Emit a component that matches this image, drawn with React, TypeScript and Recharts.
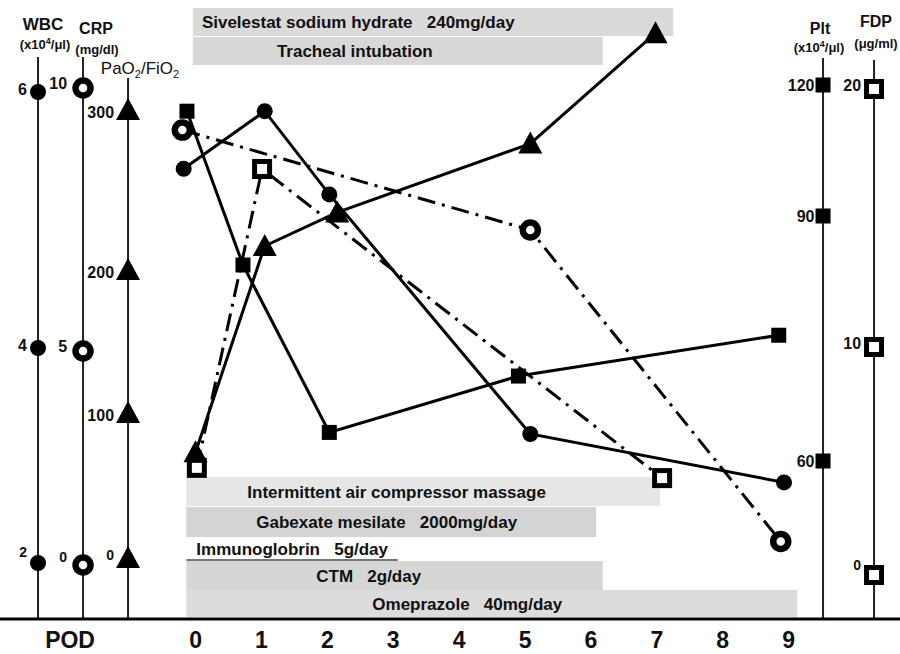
import React from "react";
import { ComposedChart, Scatter, XAxis, YAxis, ReferenceLine, ReferenceArea } from "recharts";

// post-operative days on the x axis
const podTicks = [0, 1, 2, 3, 4, 5, 6, 7, 8, 9];

// series (day positions keep the small offsets of the original)
const wbcDays = [-0.18, 1.05, 2.03, 5.08, 8.93];
const wbcValues = [5.4, 5.85, 5.2, 3.2, 2.75]; // x10^4/μl

const crpDays = [-0.2, 5.08, 8.88];
const crpValues = [9.2, 7.3, 0.55]; // mg/dl

const pfDays = [0, 1.05, 2.15, 5.08, 6.98];
const pfValues = [73, 215, 236, 279, 348]; // PaO2/FiO2

const pltDays = [-0.13, 0.72, 2.03, 4.9, 8.85];
const pltValues = [114, 84, 63.5, 70.4, 75.4]; // x10^4/μl

const fdpDays = [0.02, 1.01, 7.08];
const fdpValues = [4.7, 16.9, 4.25]; // μg/ml

// axis tick values
const wbcTicks = [2, 4, 6];
const crpTicks = [0, 5, 10];
const pfTicks = [0, 100, 200, 300];
const pltTicks = [60, 90, 120];
const fdpTicks = [0, 10, 20];

// treatments (start / end in POD)
const treatmentNames = [
  "Sivelestat sodium hydrate   240mg/day",
  "Tracheal intubation",
  "Intermittent air compressor massage",
  "Gabexate mesilate   2000mg/day",
  "Immunoglobrin   5g/day",
  "CTM   2g/day",
  "Omeprazole   40mg/day",
];
const treatmentStart = [-0.04, -0.04, -0.14, -0.14, -0.14, -0.14, -0.14];
const treatmentEnd = [7.25, 6.18, 7.05, 6.08, 3.07, 6.18, 9.13];

// ---- layout ----
const W = 900;
const H = 654;
const AXIS_H = 35;
const PLOT_H = H - AXIS_H; // y domain = height above the POD axis line
const X_MIN = -2.967;
const X_MAX = 10.69;
const POD_LABEL_AT = -1.904;
const FONT = "'Liberation Sans', Arial, Helvetica, sans-serif";

type Anchor = [number, number];
type Kind = "dot" | "ring" | "tri" | "sq" | "osq";

// piecewise linear value -> height, through the hand-spaced tick marks of each axis
function toLevel(anchors: Anchor[], v: number) {
  let i = 0;
  while (i < anchors.length - 2 && v > anchors[i + 1][0]) i++;
  const [v0, h0] = anchors[i];
  const [v1, h1] = anchors[i + 1];
  return h0 + ((v - v0) * (h1 - h0)) / (v1 - v0);
}

const axes: Record<string, { x: number; top: number; anchors: Anchor[]; kind: Kind; dx: number; dy: number; lowDy: number; ticks: number[] }> = {
  wbc: { x: -2.39, top: 562, anchors: [[2, 56], [4, 271], [6, 527]], kind: "dot", dx: -11, dy: -3, lowDy: -12, ticks: wbcTicks },
  crp: { x: -1.707, top: 562, anchors: [[0, 54], [5, 268], [10, 531]], kind: "ring", dx: -13, dy: -5, lowDy: -9, ticks: crpTicks },
  pf: { x: -1.024, top: 541, anchors: [[0, 61], [100, 206], [200, 349], [300, 509]], kind: "tri", dx: -10, dy: 2, lowDy: -4, ticks: pfTicks },
  plt: { x: 9.522, top: 561, anchors: [[60, 158], [90, 403], [120, 534]], kind: "sq", dx: -9, dy: 0, lowDy: 0, ticks: pltTicks },
  fdp: { x: 10.296, top: 559, anchors: [[0, 44], [10, 272], [20, 530]], kind: "osq", dx: -11, dy: -4, lowDy: -11, ticks: fdpTicks },
};

const rowTop = [8, 37, 477, 507, 537, 561, 590];
const rowBottom = [36, 65, 506, 537, 561, 590, 617];
const rowFill = ["#dadada", "#d8d8d8", "#e6e6e6", "#d4d4d4", "none", "#d6d6d6", "#dcdcdc"];
const rowTextDx = [9, 84, 61, 70, 10, 130, 186];

function Marker({ kind, cx, cy }: { kind: Kind; cx: number; cy: number }) {
  switch (kind) {
    case "dot":
      return <circle cx={cx} cy={cy} r={8} fill="#000" />;
    case "ring":
      return <circle cx={cx} cy={cy} r={7.5} fill="#fff" stroke="#000" strokeWidth={6.5} />;
    case "tri":
      return <polygon points={`${cx},${cy - 12} ${cx - 12},${cy + 10} ${cx + 12},${cy + 10}`} fill="#000" />;
    case "sq":
      return <rect x={cx - 7.5} y={cy - 7.5} width={15} height={15} fill="#000" />;
    default:
      return <rect x={cx - 7.5} y={cy - 7.5} width={15} height={15} fill="#fff" stroke="#000" strokeWidth={5} />;
  }
}

const solid = { stroke: "#000", strokeWidth: 3 };
const dashDot = { stroke: "#000", strokeWidth: 3, strokeDasharray: "18 7 3 7" };

const series = [
  { key: "plt", days: pltDays, values: pltValues, line: solid },
  { key: "wbc", days: wbcDays, values: wbcValues, line: solid },
  { key: "crp", days: crpDays, values: crpValues, line: dashDot },
  { key: "pf", days: pfDays, values: pfValues, line: solid },
  { key: "fdp", days: fdpDays, values: fdpValues, line: dashDot },
];

function PodTick(props: any) {
  const { x, y, payload } = props;
  return (
    <text x={x} y={y + 21} textAnchor="middle" fontSize={23} fontWeight="bold" fill="#111" fontFamily={FONT}>
      {payload.value < 0 ? "POD" : payload.value}
    </text>
  );
}

const titleStyle = (x: number, y: number, size: number, bold = true): React.CSSProperties => ({
  position: "absolute",
  left: x,
  top: y,
  transform: "translate(-50%, -50%)",
  fontSize: size,
  fontWeight: bold ? "bold" : "normal",
  color: "#111",
  whiteSpace: "nowrap",
  lineHeight: 1,
});

export default function App() {
  return (
    <div style={{ position: "absolute", left: 0, top: 0, width: W, height: H, background: "#fff", fontFamily: FONT }}>
      <ComposedChart width={W} height={H} margin={{ top: 0, right: 0, bottom: 0, left: 0 }}>
        <XAxis
          type="number"
          dataKey="x"
          domain={[X_MIN, X_MAX]}
          allowDataOverflow
          ticks={[POD_LABEL_AT, ...podTicks]}
          interval={0}
          height={AXIS_H}
          tickLine={false}
          axisLine={{ stroke: "#000", strokeWidth: 3 }}
          tick={<PodTick />}
        />
        <YAxis type="number" dataKey="y" domain={[0, PLOT_H]} allowDataOverflow hide width={0} />

        {treatmentNames.map((name, i) => (
          <ReferenceArea
            key={name}
            x1={treatmentStart[i]}
            x2={treatmentEnd[i]}
            y1={PLOT_H - rowBottom[i]}
            y2={PLOT_H - rowTop[i]}
            ifOverflow="visible"
            shape={(p: any) => (
              <g>
                <rect x={p.x} y={p.y} width={p.width} height={p.height} fill={rowFill[i]} />
                {rowFill[i] === "none" && (
                  <line x1={p.x} x2={p.x + p.width} y1={p.y + p.height - 1} y2={p.y + p.height - 1} stroke="#777" strokeWidth={2} />
                )}
                <text
                  x={p.x + rowTextDx[i]}
                  y={p.y + p.height / 2 + 6}
                  fontSize={17}
                  fontWeight="bold"
                  fill="#111"
                  fontFamily={FONT}
                  style={{ whiteSpace: "pre" }}
                >
                  {name}
                </text>
              </g>
            )}
          />
        ))}

        {Object.entries(axes).map(([k, a]) => (
          <ReferenceLine
            key={`axis-${k}`}
            segment={[{ x: a.x, y: 0 }, { x: a.x, y: a.top }]}
            stroke="#222"
            strokeWidth={2}
            ifOverflow="visible"
          />
        ))}

        {series.map((s) => (
          <Scatter
            key={s.key}
            data={s.days.map((d, i) => ({ x: d, y: toLevel(axes[s.key].anchors, s.values[i]) }))}
            fill="#000"
            line={s.line}
            lineType="joint"
            shape={(p: any) => <Marker kind={axes[s.key].kind} cx={p.cx} cy={p.cy} />}
            isAnimationActive={false}
          />
        ))}

        {Object.entries(axes).map(([k, a]) => (
          <Scatter
            key={`ticks-${k}`}
            data={a.ticks.map((t, i) => ({ x: a.x, y: toLevel(a.anchors, t), label: String(t), low: i === 0 }))}
            fill="#000"
            isAnimationActive={false}
            shape={(p: any) => {
              const m = a.kind === "osq" ? 10 : a.kind === "sq" ? 7.5 : a.kind === "ring" ? 11 : a.kind === "tri" ? 12 : 8;
              const low = p.payload.low;
              return (
                <g>
                  <Marker kind={a.kind} cx={p.cx} cy={p.cy} />
                  <text
                    x={p.cx - m + a.dx + 8}
                    y={p.cy + (low ? a.lowDy : a.dy) + 6}
                    textAnchor="end"
                    fontSize={low && a.lowDy !== 0 ? 14 : 16}
                    fontWeight="bold"
                    fill="#111"
                    fontFamily={FONT}
                  >
                    {p.payload.label}
                  </text>
                </g>
              );
            }}
          />
        ))}
      </ComposedChart>

      <div style={titleStyle(43, 24, 17)}>WBC</div>
      <div style={titleStyle(45, 44, 13)}>
        (x10<sup style={{ fontSize: 9 }}>4</sup>/μl)
      </div>
      <div style={titleStyle(96, 29, 16)}>CRP</div>
      <div style={titleStyle(97, 49, 13)}>(mg/dl)</div>
      <div style={titleStyle(140, 70, 17, false)}>
        PaO<sub style={{ fontSize: 11 }}>2</sub>/FiO<sub style={{ fontSize: 11 }}>2</sub>
      </div>
      <div style={titleStyle(820, 29, 16)}>Plt</div>
      <div style={titleStyle(819, 47, 13)}>
        (x10<sup style={{ fontSize: 9 }}>4</sup>/μl)
      </div>
      <div style={titleStyle(876, 22, 16)}>FDP</div>
      <div style={titleStyle(876, 43, 13)}>(μg/ml)</div>
    </div>
  );
}
